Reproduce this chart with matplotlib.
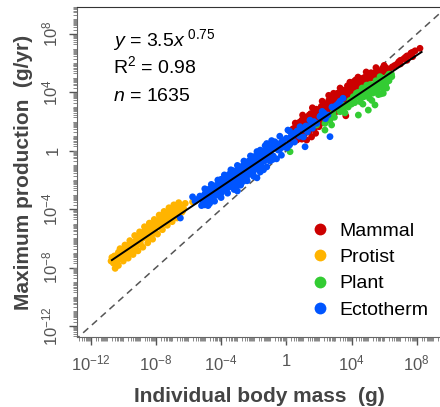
import numpy as np
import matplotlib
matplotlib.use('Agg')
import matplotlib.pyplot as plt
from matplotlib.ticker import FixedLocator, LogLocator, NullFormatter
from matplotlib.lines import Line2D

plt.rcParams['font.family'] = ['Liberation Sans', 'DejaVu Sans']
plt.rcParams['mathtext.fontset'] = 'custom'
plt.rcParams['mathtext.rm'] = 'Liberation Sans'
plt.rcParams['mathtext.it'] = 'Liberation Sans:italic'

# log10 body mass (g) and log10 max production (g/yr)
protist_lm = [-10.75, -10.70, -10.60, -10.50, -10.45, -10.35, -10.30, -10.20, -10.10, -10.05,
              -9.95, -9.90, -9.80, -9.75, -9.65, -9.60, -9.50, -9.45, -9.35, -9.30,
              -9.20, -9.15, -9.05, -9.00, -8.90, -8.85, -8.75, -8.70, -8.60, -8.55,
              -8.45, -8.40, -8.30, -8.25, -8.15, -8.05, -7.95, -7.90, -7.80, -7.70,
              -7.65, -7.55, -7.45, -7.40, -7.30, -7.20, -7.10, -7.05, -6.95, -6.85,
              -6.75, -6.70, -6.60, -6.50, -6.40, -6.30, -5.75,
              -10.65, -10.55, -10.40, -10.25, -10.15, -10.00, -9.85, -9.70, -9.55, -9.40,
              -9.25, -9.10, -8.95, -8.80, -8.65, -8.50, -8.35, -8.20, -8.10, -8.00,
              -7.85, -7.75, -7.60, -7.50, -7.35, -7.25, -7.15, -7.00, -6.90, -6.80,
              -6.65, -6.55, -6.45, -6.35,
              -10.20, -9.90, -9.60, -9.30, -9.00, -8.70, -8.40, -8.10, -7.80, -7.50,
              -7.20, -6.90, -6.60, -6.20,
              -10.30, -10.00, -9.70, -9.40, -9.10, -8.80, -8.50, -8.20, -7.90, -7.60,
              -7.30, -7.00, -6.70]
protist_lp = [-7.55, -7.30, -7.70, -8.05, -7.20, -7.45, -6.95, -7.15, -7.40, -6.85,
              -6.95, -7.20, -6.60, -6.95, -6.75, -6.40, -6.60, -6.95, -6.30, -6.55,
              -6.10, -6.45, -6.20, -5.85, -6.05, -5.70, -5.95, -5.50, -5.80, -5.35,
              -5.60, -5.00, -5.35, -5.75, -5.10, -5.40, -4.85, -5.20, -4.95, -4.60,
              -5.00, -4.75, -4.45, -4.90, -4.55, -4.25, -4.65, -4.35, -4.15, -4.45,
              -4.00, -4.30, -4.05, -3.85, -4.20, -3.95, -3.50,
              -7.45, -7.20, -7.65, -7.35, -6.90, -7.10, -6.80, -7.05, -6.75, -6.50,
              -6.80, -6.00, -6.35, -5.85, -5.60, -5.90, -5.25, -5.55, -4.95, -5.25,
              -4.80, -5.15, -4.55, -4.95, -4.35, -4.75, -4.40, -4.55, -4.05, -4.30,
              -3.90, -4.15, -3.95, -4.10,
              -6.70, -6.45, -6.15, -5.80, -5.55, -5.20, -4.95, -4.70, -4.40, -4.15,
              -3.90, -3.70, -3.55, -3.60,
              -7.85, -7.55, -7.35, -7.10, -6.85, -6.60, -6.30, -6.05, -5.70, -5.40,
              -5.10, -4.85, -4.60]

ecto_lm = [-6.50, -5.75, -5.40, -5.20, -5.00, -5.00, -4.90, -4.90, -4.80, -4.80,
           -4.70, -4.70, -4.70, -4.60, -4.60, -4.50, -4.50, -4.40, -4.40, -4.30,
           -4.30, -4.20, -4.20, -4.10, -4.10, -4.00, -4.00, -4.00, -3.90, -3.90,
           -3.80, -3.80, -3.70, -3.70, -3.60, -3.60, -3.50, -3.50, -3.40, -3.40,
           -3.30, -3.30, -3.20, -3.20, -3.10, -3.10, -3.00, -3.00, -3.00, -2.90,
           -2.90, -2.80, -2.80, -2.70, -2.70, -2.60, -2.60, -2.50, -2.50, -2.40,
           -2.40, -2.30, -2.30, -2.20, -2.20, -2.10, -2.10, -2.00, -2.00, -2.00,
           -1.90, -1.90, -1.80, -1.80, -1.70, -1.70, -1.60, -1.60, -1.50, -1.50,
           -1.40, -1.40, -1.20, -1.20, -1.00, -1.00, -0.80, -0.80, -0.70, -0.50,
           -0.50, -0.30, -0.30, -0.10, 0.00, 0.10, 0.20, 0.30, 0.50, 0.50,
           0.80, 0.84, 1.00, 1.15, 1.30, 1.45, 1.60, 1.70, 1.87, 2.06,
           2.10, 2.30, 2.40, 2.68, 2.80, 2.90, 3.20, 3.30, 3.48,
           -5.60, -5.30, -5.10, -4.95, -4.85, -4.75, -4.65, -4.55, -4.45, -4.35,
           -4.25, -4.15, -4.05, -3.95, -3.85, -3.75, -3.65, -3.55, -3.45, -3.35,
           -3.25, -3.15, -3.05, -2.95, -2.85, -2.75, -2.65, -2.55, -2.45, -2.35,
           -2.25, -2.15, -2.05, -1.95, -1.85, -1.75, -1.65, -1.55, -1.45, -1.35,
           -1.25, -1.10, -0.95, -0.85, -0.60, -0.40, -0.20, 0.05, 0.35, 0.65,
           1.05, 1.20, 1.55, 2.20, 2.55, 3.05,
           -5.00, -4.60, -4.20, -3.80, -3.40, -3.00, -2.60, -2.20, -1.80, -1.30,
           -0.90, -0.40, 0.20,
           -4.80, -4.40, -4.00, -3.60, -3.20, -2.80, -2.40, -2.00, -1.60, -1.20,
           -0.60]
ecto_lp = [-4.60, -3.15, -3.30, -3.75, -3.70, -2.95, -3.45, -2.85, -3.30, -2.70,
           -3.60, -3.05, -2.60, -3.20, -2.75, -2.55, -3.10, -2.90, -2.40, -3.05,
           -2.50, -2.30, -2.80, -2.65, -2.20, -2.90, -2.35, -1.95, -2.55, -2.05,
           -2.70, -2.15, -1.85, -2.40, -2.00, -2.55, -1.60, -2.25, -2.30, -1.80,
           -1.35, -2.10, -1.70, -2.45, -1.50, -2.00, -2.75, -1.85, -1.30, -1.45,
           -2.05, -1.20, -1.75, -1.60, -1.05, -1.80, -1.25, -0.95, -1.50, -1.10,
           -1.65, -0.70, -1.35, -0.85, -1.40, -0.45, -1.20, -0.40, -0.80, -1.30,
           -0.65, -1.05, -1.85, -0.30, -0.55, -1.10, 0.05, -0.90, -0.35, -0.75,
           -0.20, -1.30, 0.50, -0.55, -0.05, -0.70, 0.20, -0.35, 0.62, 0.05,
           0.45, -0.30, 0.60, 0.25, 0.86, 1.42, 0.40, 1.00, 1.20, 0.60,
           1.00, 1.65, 1.50, 0.28, 1.30, 2.10, 1.55, 2.00, 1.88, 2.34,
           2.40, 2.60, 2.20, 0.97, 3.00, 2.95, 3.25, 3.40, 3.60,
           -3.45, -3.10, -3.55, -3.20, -2.95, -3.40, -2.85, -3.40, -2.70, -2.85,
           -2.45, -3.00, -2.55, -2.25, -2.50, -1.95, -2.35, -1.80, -2.45, -1.70,
           -2.15, -1.85, -2.40, -1.60, -1.90, -1.35, -2.10, -1.20, -1.85, -0.95,
           -1.60, -0.75, -1.55, -0.50, -1.25, -0.80, -0.40, -1.05, -0.10, -0.70,
           0.05, -0.30, 0.30, -0.60, 0.35, 0.10, 0.70, 0.20, 0.85, 1.35,
           0.95, 1.70, 1.85, 2.70, 2.45, 3.10,
           -2.60, -2.30, -2.00, -1.65, -1.30, -1.00, -0.70, -0.35, -0.05, 0.35,
           0.70, 1.00, 1.35,
           -3.75, -3.45, -3.20, -2.90, -2.65, -2.35, -2.05, -1.75, -1.45, -1.10,
           -0.55]

mammal_lm = [0.23, 0.40, 0.40, 0.55, 0.55, 0.65, 0.65, 0.80, 0.80, 0.80,
             0.95, 0.95, 0.95, 1.10, 1.10, 1.10, 1.25, 1.25, 1.25, 1.40,
             1.40, 1.40, 1.55, 1.55, 1.55, 1.70, 1.70, 1.70, 1.85, 1.85,
             1.85, 2.00, 2.00, 2.00, 2.15, 2.15, 2.15, 2.30, 2.30, 2.30,
             2.45, 2.45, 2.45, 2.60, 2.60, 2.60, 2.75, 2.75, 2.75, 2.90,
             2.90, 2.90, 3.05, 3.05, 3.05, 3.20, 3.20, 3.20, 3.35, 3.35,
             3.35, 3.50, 3.50, 3.50, 3.65, 3.65, 3.65, 3.80, 3.80, 3.95,
             3.95, 3.95, 4.10, 4.10, 4.25, 4.25, 4.25, 4.40, 4.40, 4.55,
             4.55, 4.70, 4.70, 4.85, 4.85, 5.00, 5.00, 5.20, 5.20, 5.40,
             5.40, 5.60, 5.60, 5.80, 6.00, 6.16, 6.50, 6.80, 7.00, 7.00,
             7.20, 7.40, 7.40, 7.59, 7.75, 7.75, 7.90, 8.20,
             0.35, 0.50, 0.70, 0.75, 0.90, 1.00, 1.15, 1.20, 1.35, 1.45,
             1.50, 1.65, 1.75, 1.80, 1.95, 2.05, 2.10, 2.25, 2.35, 2.40,
             2.55, 2.65, 2.70, 2.85, 2.95, 3.00, 3.10, 3.15, 3.25, 3.40,
             3.45, 3.55, 3.60, 3.75, 3.85, 4.00, 4.05, 4.15, 4.30, 4.35,
             4.50, 4.60, 4.75, 4.90, 5.05, 5.10, 5.30, 5.50, 5.70, 5.90,
             6.10, 6.30, 6.65, 6.90, 7.30, 7.65,
             1.00, 1.60, 2.20, 2.60, 3.30, 3.90, 4.40, 4.90, 5.50, 6.00]
mammal_lp = [0.51, 1.50, 0.90, 1.90, 1.30, 0.74, 1.60, 1.95, 1.40, 0.95,
             1.42, 2.10, 0.80, 2.30, 1.75, 1.10, 0.74, 2.05, 1.60, 2.45,
             1.90, 1.30, 2.25, 0.95, 1.85, 2.65, 2.10, 1.50, 2.40, 1.75,
             2.85, 2.70, 2.20, 1.65, 3.05, 2.50, 1.90, 2.80, 2.35, 3.25,
             3.00, 2.55, 2.05, 3.45, 2.85, 2.30, 3.20, 2.70, 3.70, 3.94,
             3.10, 2.60, 3.50, 2.95, 3.75, 3.30, 3.85, 2.85, 4.05, 3.55,
             3.10, 3.70, 3.30, 4.15, 4.00, 3.55, 2.40, 4.30, 3.80, 3.95,
             4.45, 3.60, 4.20, 4.60, 4.40, 4.85, 3.90, 4.55, 4.20, 4.73,
             4.95, 4.50, 4.85, 5.05, 4.60, 4.75, 5.20, 5.00, 5.35, 5.30,
             4.95, 5.50, 5.10, 5.45, 5.40, 5.53, 5.75, 5.95, 6.20, 5.95,
             6.30, 6.50, 6.20, 6.56, 6.75, 6.45, 6.85, 7.02,
             1.15, 1.55, 1.25, 1.75, 1.05, 1.70, 2.00, 1.35, 2.20, 1.60,
             2.55, 1.95, 2.30, 1.20, 2.55, 1.90, 2.85, 2.10, 3.00, 2.60,
             3.25, 2.60, 3.50, 2.90, 3.60, 3.25, 2.70, 3.95, 3.50, 3.80,
             3.30, 4.10, 3.65, 4.45, 4.05, 4.35, 3.85, 4.75, 4.55, 4.15,
             4.85, 4.40, 5.00, 4.75, 5.30, 4.95, 5.20, 5.40, 5.30, 5.65,
             5.70, 5.60, 5.85, 6.10, 6.40, 6.70,
             2.45, 2.95, 3.40, 3.80, 4.30, 4.70, 5.05, 5.40, 5.70, 5.85]

plant_lm = [0.23, 1.86, 2.26, 2.37, 2.37, 2.68, 2.78, 2.87, 3.30, 3.50,
            3.70, 3.90, 4.11, 4.20, 4.30, 4.42, 4.50, 4.60, 4.70, 4.80,
            4.93, 5.03, 5.00, 5.10, 5.20, 5.30, 5.44, 5.40, 5.50, 5.60,
            5.70, 5.75, 5.80, 5.85, 5.95, 6.00, 6.10, 6.20, 6.30, 6.40,
            6.47, 4.40, 4.00, 3.60, 4.90, 5.60, 6.30,
            2.50, 2.95, 3.10, 3.40, 3.80, 4.05, 4.25, 4.45, 4.55, 4.65,
            4.75, 4.85, 5.05, 5.15, 5.25, 5.35, 5.50, 5.65, 5.75, 5.90,
            6.05, 6.15, 6.25, 6.35, 6.45]
plant_lp = [-0.06, 1.77, 2.45, 1.42, 1.88, 2.10, 1.77, 2.60, 2.68, 2.95,
            3.14, 3.45, 3.71, 3.30, 3.95, 2.45, 3.60, 4.10, 3.20, 3.85,
            4.50, 2.79, 4.20, 3.60, 4.35, 3.95, 3.14, 4.55, 4.15, 4.75,
            4.40, 5.08, 3.90, 4.70, 3.94, 4.95, 4.55, 5.10, 4.80, 5.20,
            5.08, 4.00, 3.20, 2.60, 4.00, 4.25, 5.25,
            2.25, 2.30, 2.95, 3.15, 3.00, 3.55, 3.70, 3.85, 3.35, 4.30,
            3.70, 4.25, 3.85, 4.55, 3.45, 4.25, 4.80, 3.85, 4.55, 4.30,
            4.80, 4.30, 4.95, 5.05, 5.25]

# fitted line y = 3.5 x^0.75 over the data range
fit_a = 3.5
fit_b = 0.75
fit_lm = [-10.7, 8.3]

groups = [
    ('Mammal', '#CC0000', mammal_lm, mammal_lp),
    ('Protist', '#FFB400', protist_lm, protist_lp),
    ('Plant', '#33CC33', plant_lm, plant_lp),
    ('Ectotherm', '#0055FF', ecto_lm, ecto_lp),
]

fig = plt.figure(figsize=(4.4, 4.07), dpi=100)
ax = fig.add_axes([77/440, 70/407, 364/440, 330/407])
ax.set_xscale('log')
ax.set_yscale('log')
ax.set_xlim(10**-12.84, 10**9.49)
ax.set_ylim(10**-12.75, 10**9.85)

# 1:1 line
ax.plot([1e-13, 1e10], [1e-13, 1e10], color='#555555', lw=1.1,
        linestyle=(0, (4.5, 3.2)), zorder=1)

for i in [0, 2, 1, 3]:
    name, col, lm, lp = groups[i]
    ax.scatter(10**np.array(lm), 10**np.array(lp), s=24, color=col,
               edgecolors='none', zorder=2)

fm = 10**np.array(fit_lm)
ax.plot(fm, fit_a * fm**fit_b, color='black', lw=1.4, zorder=3)

majors = [1e-12, 1e-8, 1e-4, 1, 1e4, 1e8]
labels = [r'$10^{-12}$', r'$10^{-8}$', r'$10^{-4}$', '1', r'$10^{4}$', r'$10^{8}$']
for axis in (ax.xaxis, ax.yaxis):
    axis.set_major_locator(FixedLocator(majors))
    axis.set_minor_locator(LogLocator(base=10, subs=np.arange(1, 10) * 1.0, numticks=300))
    axis.set_minor_formatter(NullFormatter())
ax.set_xticklabels(labels)
ax.set_yticklabels(labels, rotation=90, va='center')

ax.tick_params(which='major', length=6, width=1.0, color='#555555',
               labelcolor='#555555', labelsize=12, pad=6)
ax.tick_params(which='minor', length=3, width=0.7, color='#888888')
for s in ['left', 'bottom']:
    ax.spines[s].set_color('#666666')
ax.spines['top'].set_color('#333333')
ax.spines['right'].set_visible(False)

ax.set_xlabel('Individual body mass  (g)', fontsize=15, fontweight='bold',
              color='#444444', labelpad=10)
ax.set_ylabel('Maximum production  (g/yr)', fontsize=15, fontweight='bold',
              color='#444444', labelpad=5)

ax.text(0.099, 0.883, r'$y$ = 3.5$x^{\ 0.75}$', transform=ax.transAxes,
        fontsize=14, va='baseline')
ax.text(0.099, 0.799, r'R$^2$ = 0.98', transform=ax.transAxes,
        fontsize=14, va='baseline')
ax.text(0.099, 0.716, r'$n$ = 1635', transform=ax.transAxes,
        fontsize=14, va='baseline')

handles = [Line2D([], [], marker='o', linestyle='none', markersize=8.5,
                  markerfacecolor=g[1], markeredgecolor='none') for g in groups]
ax.legend(handles, [g[0] for g in groups], loc='upper left',
          bbox_to_anchor=(310/440, (407-222)/407), bbox_transform=fig.transFigure,
          frameon=False, fontsize=14, handlelength=1.0, handletextpad=0.5,
          labelspacing=0.45, borderpad=0, borderaxespad=0)

fig.savefig('out.png', dpi=100)
